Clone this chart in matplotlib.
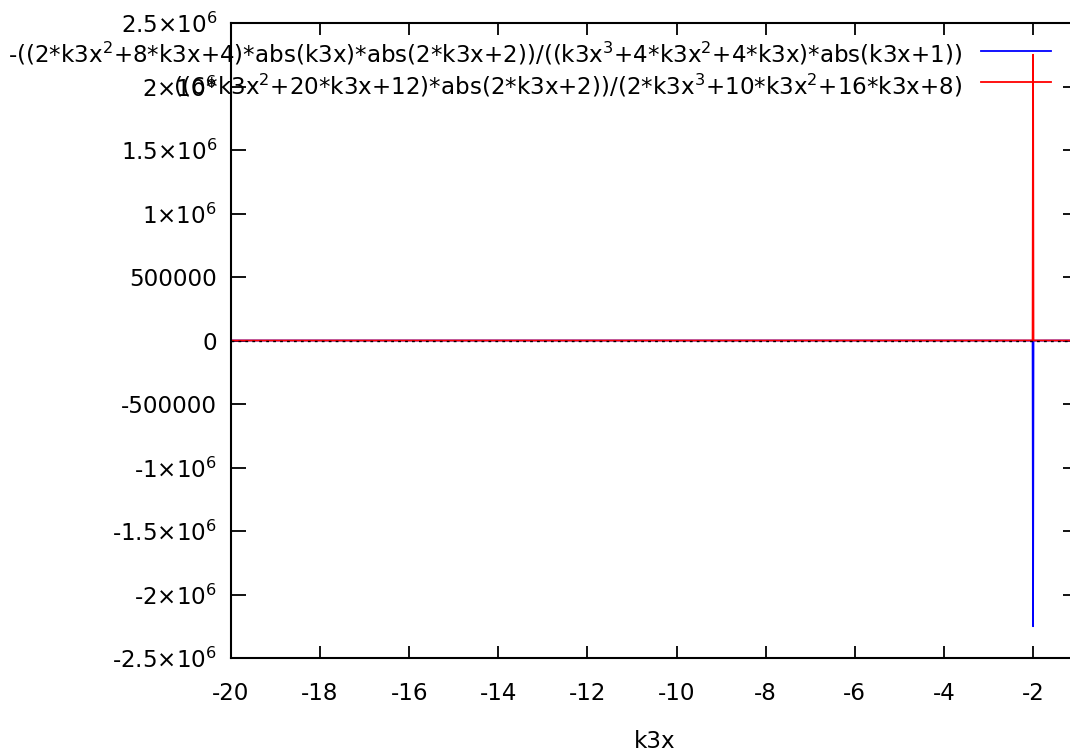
import matplotlib
matplotlib.use('Agg')
import matplotlib.pyplot as plt
from matplotlib.lines import Line2D

plt.rcParams['font.family'] = ['DejaVu Sans']
plt.rcParams['mathtext.default'] = 'regular'

# values (both curves sit on zero except the spike at k3x = -2)
k3x = [-20, -15, -10, -5, -3, -2.01, -2.0, -1.99, -1.5, -1.0]
blue_vals = [3.9, 3.9, 3.8, 3.1, -4, -900, -2250000, -900, -28, -4]
red_vals = [-6.3, -6.3, -6.4, -7, -6, 400, 2250000, 400, 18, 2]

blue_label = '-((2*k3x$^{2}$+8*k3x+4)*abs(k3x)*abs(2*k3x+2))/((k3x$^{3}$+4*k3x$^{2}$+4*k3x)*abs(k3x+1))'
red_label = '((6*k3x$^{2}$+20*k3x+12)*abs(2*k3x+2))/(2*k3x$^{3}$+10*k3x$^{2}$+16*k3x+8)'

x_ticks = [-20, -18, -16, -14, -12, -10, -8, -6, -4, -2]
y_ticks = [-2.5e6, -2e6, -1.5e6, -1e6, -5e5, 0, 5e5, 1e6, 1.5e6, 2e6, 2.5e6]
y_tick_labels = ['-2.5×10$^{6}$', '-2×10$^{6}$', '-1.5×10$^{6}$', '-1×10$^{6}$', '-500000', '0',
                 '500000', '1×10$^{6}$', '1.5×10$^{6}$', '2×10$^{6}$', '2.5×10$^{6}$']

W, H = 1070, 751
fig = plt.figure(figsize=(W / 100, H / 100), dpi=100)

# fit the font size so the first key line is as wide as in the picture
probe = fig.text(0, 0, blue_label, fontsize=10)
fig.canvas.draw()
wpx = probe.get_window_extent().width
probe.remove()
fs = 10 * 955 / wpx

ax = fig.add_axes([231 / W, 1 - 658 / H, (1077.6 - 231) / W, (658 - 23) / H])
ax.plot(k3x, blue_vals, color='#0000ff', lw=1.3)
ax.plot(k3x, red_vals, color='#ff0000', lw=1.3)
ax.axhline(0, color='black', lw=1, ls=(0, (2, 3)), zorder=3)

ax.set_xlim(-20, -1)
ax.set_ylim(-2.5e6, 2.5e6)
ax.set_xticks(x_ticks)
ax.set_xticklabels([str(v) for v in x_ticks])
ax.set_yticks(y_ticks)
ax.set_yticklabels(y_tick_labels)
ax.tick_params(direction='in', width=1.3, top=True, right=True,
               labelsize=fs, colors='black')
ax.tick_params(axis='y', length=10.5, pad=10)
ax.tick_params(axis='x', length=8.6, pad=17)
for s in ax.spines.values():
    s.set_linewidth(1.5)
ax.set_xlabel('k3x', fontsize=fs, labelpad=18)

# key, drawn like gnuplot: text right aligned, sample line after it
for lab, col, ytxt, yline in [(blue_label, '#0000ff', 54, 51), (red_label, '#ff0000', 86, 82)]:
    fig.text(962 / W, 1 - ytxt / H, lab, ha='right', va='center', fontsize=fs)
    fig.add_artist(Line2D([981 / W, 1051 / W], [1 - yline / H] * 2, color=col, lw=1.3))

fig.savefig('out.png', dpi=100)
